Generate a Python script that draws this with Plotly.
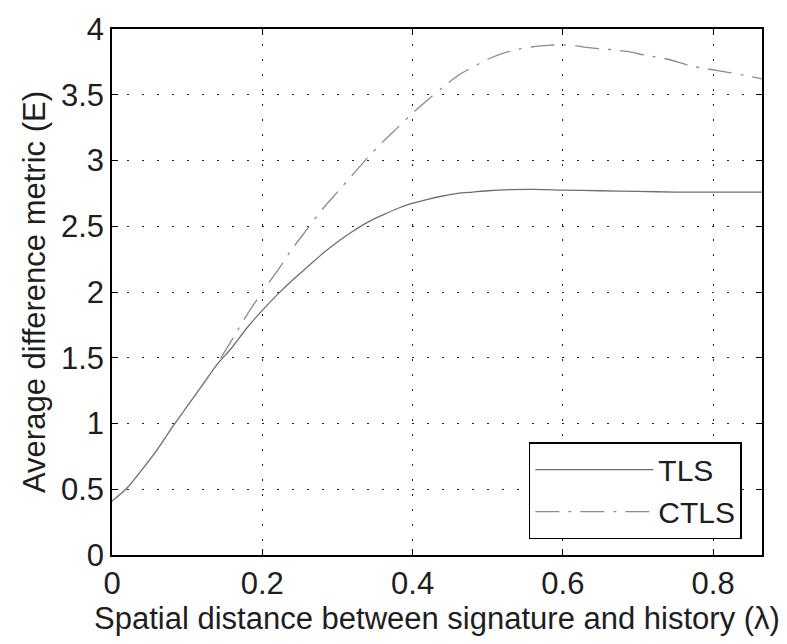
import plotly.graph_objects as go

tls_x = [0, 0.02, 0.04, 0.06, 0.08, 0.10, 0.12, 0.14, 0.16, 0.18, 0.20, 0.22, 0.24, 0.26,
         0.28, 0.30, 0.32, 0.34, 0.36, 0.38, 0.40, 0.42, 0.44, 0.46, 0.48, 0.50, 0.53, 0.56,
         0.60, 0.65, 0.70, 0.75, 0.80, 0.865]
tls_y = [0.41, 0.51, 0.65, 0.80, 0.97, 1.13, 1.29, 1.45, 1.58, 1.73, 1.86, 1.98, 2.09, 2.19,
         2.29, 2.38, 2.46, 2.53, 2.585, 2.635, 2.675, 2.705, 2.73, 2.75, 2.76, 2.77, 2.778, 2.78,
         2.775, 2.77, 2.765, 2.76, 2.76, 2.76]

ctls_x = [0, 0.02, 0.04, 0.06, 0.08, 0.10, 0.12, 0.14, 0.16, 0.18, 0.20, 0.22, 0.24, 0.26,
          0.28, 0.30, 0.32, 0.34, 0.36, 0.38, 0.40, 0.42, 0.44, 0.46, 0.48, 0.50, 0.52, 0.54,
          0.56, 0.58, 0.60, 0.64, 0.685, 0.71, 0.74, 0.77, 0.81, 0.84, 0.865]
ctls_y = [0.41, 0.51, 0.65, 0.80, 0.97, 1.13, 1.29, 1.455, 1.64, 1.83, 2.00, 2.16, 2.33, 2.48,
          2.63, 2.76, 2.89, 3.02, 3.14, 3.25, 3.36, 3.46, 3.555, 3.645, 3.71, 3.77, 3.815, 3.845,
          3.865, 3.875, 3.88, 3.855, 3.83, 3.80, 3.77, 3.72, 3.68, 3.65, 3.62]

x_ticks = [0, 0.2, 0.4, 0.6, 0.8]
x_tick_labels = ["0", "0.2", "0.4", "0.6", "0.8"]
y_ticks = [0, 0.5, 1, 1.5, 2, 2.5, 3, 3.5, 4]
y_tick_labels = ["0", "0.5", "1", "1.5", "2", "2.5", "3", "3.5", "4"]

FONT = "Liberation Sans, Arial, Helvetica, sans-serif"
TXT = "#1e1e1e"

fig = go.Figure()
fig.add_trace(go.Scatter(x=tls_x, y=tls_y, mode="lines", name="TLS",
                         line=dict(color="#6e6e6e", width=1.3, shape="spline", smoothing=0.8)))
fig.add_trace(go.Scatter(x=ctls_x, y=ctls_y, mode="lines", name="CTLS",
                         line=dict(color="#8c8c8c", width=1.3, dash="24px,9px,3px,9px",
                                   shape="spline", smoothing=0.8)))

axis_common = dict(
    showline=True, linecolor="black", linewidth=1.5, mirror="ticks",
    ticks="inside", ticklen=6, tickcolor="black", tickwidth=1,
    showgrid=True, gridcolor="#222", gridwidth=1, griddash="2px,13px",
    zeroline=False, tickfont=dict(size=31, color=TXT),
)

fig.update_xaxes(range=[0, 0.865], tickvals=x_ticks, ticktext=x_tick_labels,
                 title=dict(text="Spatial distance between signature and history (λ)",
                            font=dict(size=31, color=TXT), standoff=4),
                 **axis_common)
fig.update_yaxes(range=[0, 4], tickvals=y_ticks, ticktext=y_tick_labels,
                 title=dict(text="Average difference metric (E)",
                            font=dict(size=31, color=TXT), standoff=6),
                 **axis_common)

fig.update_layout(
    width=787, height=644,
    margin=dict(l=112, r=25, t=22, b=89),
    paper_bgcolor="white", plot_bgcolor="white",
    font=dict(family=FONT, color=TXT),
    showlegend=True,
    legend=dict(x=0.969, y=0.03, xanchor="right", yanchor="bottom",
                bordercolor="black", borderwidth=1.5, bgcolor="white",
                font=dict(size=30, color=TXT), itemwidth=118,
                tracegroupgap=0, traceorder="normal"),
)

fig.write_html("out.html")
